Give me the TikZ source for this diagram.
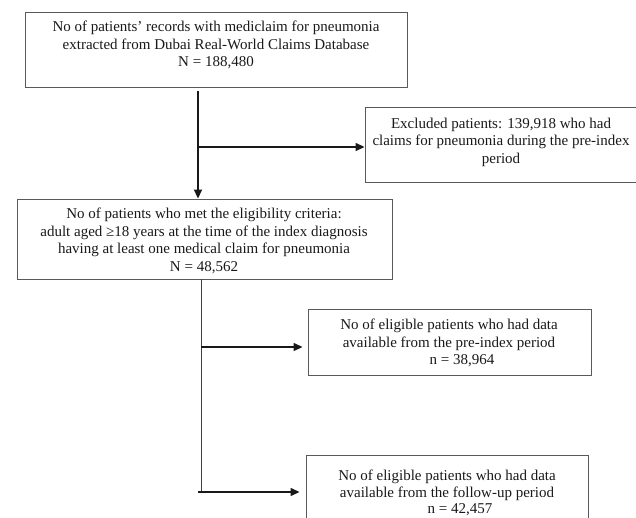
\documentclass[tikz,border=0pt]{standalone}
\usepackage{fontspec}
\setmainfont{Liberation Serif}
\usetikzlibrary{arrows.meta}
\begin{document}
\begin{tikzpicture}[x=1pt,y=-1pt,
  box/.style={draw=black!65,line width=0.9pt,rectangle,inner sep=0pt},
  txt/.style={align=center,font=\fontsize{15}{17.5}\selectfont,inner sep=0pt,text=black!90},
  arr/.style={-{Triangle[length=9pt,width=8pt]},line width=1.3pt,draw=black!90},
  thin/.style={line width=0.9pt,draw=black!75}]
\useasboundingbox (0,0) rectangle (636,518);
\clip (0,0) rectangle (636,518);
% boxes
\node[box,minimum width=382pt,minimum height=75pt] (b1) at (216,49.5) {};
\node[box,minimum width=275pt,minimum height=75pt] (ex) at (502.5,144.5) {};
\node[box,minimum width=375pt,minimum height=80pt] (b2) at (204.5,239) {};
\node[box,minimum width=283pt,minimum height=66pt] (b3) at (449.5,342) {};
\node[box,minimum width=282pt,minimum height=70pt] (b4) at (447,490) {};
% texts
\node[txt] (t1) at (216,45) {No of patients’ records with mediclaim for pneumonia\\extracted from Dubai Real-World Claims Database\\N = 188,480};
\node[txt] (tex) at (501,142) {Excluded patients: 139,918 who had\\claims for pneumonia during the pre-index\\period};
\node[txt] (t2) at (204,241) {No of patients who met the eligibility criteria:\\adult aged ≥18 years at the time of the index diagnosis\\having at least one medical claim for pneumonia\\N = 48,562};
\node[txt] (t3) at (449,343) {No of eligible patients who had data\\available from the pre-index period\\\hspace*{26pt}n = 38,964};
\node[txt,font=\fontsize{15}{16.5}\selectfont] (t4) at (447,493) {No of eligible patients who had data\\available from the follow-up period\\\hspace*{26pt}n = 42,457};
% connectors
\coordinate (j1) at (198,147);
\coordinate (j2) at (201,347);
\coordinate (j3) at (201,492);
\draw[arr,line width=1.8pt,shorten <=4pt] (b1.south -| j1) -- (b2.north -| j1);
\draw[arr] (j1) -- (j1 -| ex.west);
\draw[thin] (b2.south -| j2) -- (j3);
\draw[arr,shorten >=5pt] (j2) -- (j2 -| b3.west);
\draw[arr,shorten >=6pt] ([xshift=-3pt]j3) -- (j3 -| b4.west);
\end{tikzpicture}
\end{document}
